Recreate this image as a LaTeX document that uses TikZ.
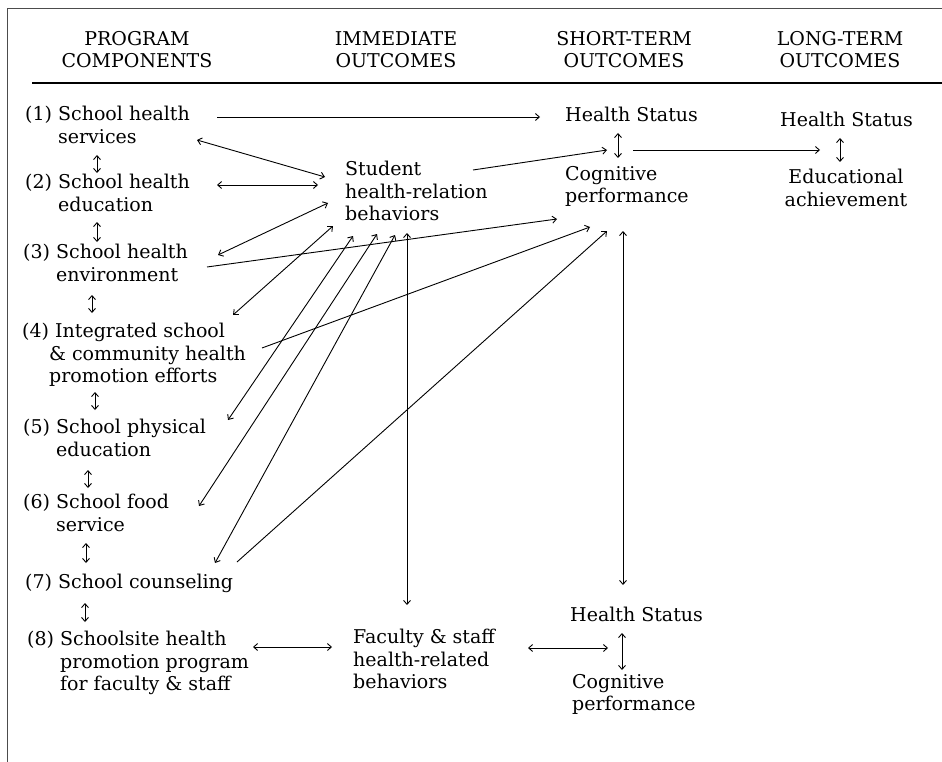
\documentclass[tikz,border=0pt]{standalone}
\usepackage{fontspec}
\setmainfont{DejaVu Serif}
\usetikzlibrary{arrows.meta}
\newcommand\labfont{\fontsize{19}{22.5}\selectfont}
\newcommand\topstrut{\rule{0pt}{15pt}}
\newcommand\ind[1]{\hphantom{(#1) }}

\begin{document}
\begin{tikzpicture}[x=1pt,y=-1pt,
  lbl/.style={inner sep=0pt, anchor=north west, align=left, font=\labfont, execute at begin node=\topstrut},
  hdr/.style={inner sep=0pt, anchor=north, align=center, font=\labfont, execute at begin node=\topstrut},
  tip/.tip={Straight Barb[length=4pt,width=7pt]},
  oneway/.style={line width=0.9pt, -tip},
  twoway/.style={line width=0.9pt, tip-tip},
  frameline/.style={line width=1pt, draw=black!70}]

\useasboundingbox (0,0) rectangle (942,762);

% frame and header rule
\draw[frameline] (7,762) -- (7,9) -- (942,9);
\draw[line width=1.5pt] (32,83) -- (942,83);

% column headers
\node[hdr] (h1) at (137,31) {PROGRAM\\COMPONENTS};
\node[hdr] (h2) at (396,31) {IMMEDIATE\\OUTCOMES};
\node[hdr] (h3) at (624,31) {SHORT-TERM\\OUTCOMES};
\node[hdr] (h4) at (840,31) {LONG-TERM\\OUTCOMES};

% program components
\node[lbl] (c1) at (25,106) {(1) School health\\\ind{1}services};
\node[lbl] (c2) at (25,174) {(2) School health\\\ind{2}education};
\node[lbl] (c3) at (23,244) {(3) School health\\\ind{3}environment};
\node[lbl] (c4) at (22,323) {(4) Integrated school\\\ind{4}\kern-6pt\& community health\\\ind{4}\kern-6pt promotion efforts};
\node[lbl] (c5) at (23,419) {(5) School physical\\\ind{5}education};
\node[lbl] (c6) at (23,494) {(6) School food\\\ind{6}service};
\node[lbl] (c7) at (25,573) {(7) School counseling};
\node[lbl] (c8) at (27,631) {(8) Schoolsite health\\\ind{8}promotion program\\\ind{8}for faculty \& staff};

% immediate outcomes
\node[lbl] (sb) at (345,161) {Student\\health-relation\\behaviors};
\node[lbl] (fb) at (353,629) {Faculty \& staff\\health-related\\behaviors};

% short-term outcomes
\node[lbl] (hs1) at (565,106) {Health Status};
\node[lbl] (cp1) at (565,166) {Cognitive\\performance};
\node[lbl] (hs3) at (570,606) {Health Status};
\node[lbl] (cp3) at (572,674) {Cognitive\\performance};

% long-term outcomes
\node[lbl] (hs2) at (780,111) {Health Status};
\node[hdr] (ea) at (846,169) {Educational\\achievement};

% connector end points
\coordinate (c1e) at (217,117);   \coordinate (hs1w) at (540,117);
\coordinate (c1s) at (197,140);   \coordinate (sb1) at (325,177);
\coordinate (c2e) at (217,185);   \coordinate (sb2) at (318,185);
\coordinate (c3e) at (218,255);   \coordinate (sb3) at (328,203);
\coordinate (c4e) at (233,315);   \coordinate (sb4) at (333,226);
\coordinate (c5e) at (228,420);   \coordinate (sb5) at (353,236);
\coordinate (c6e) at (199,506);   \coordinate (sb6) at (377,234);
\coordinate (c7e) at (215,563);   \coordinate (sb7) at (395,235);
\coordinate (sbS) at (407,233);   \coordinate (fbN) at (407,605);
\coordinate (sbE) at (473,170);   \coordinate (stm) at (607,150);
\coordinate (c3x) at (207,267);   \coordinate (cpA) at (557,219);
\coordinate (c4x) at (262,348);   \coordinate (cpB) at (590,227);
\coordinate (c7x) at (237,562);   \coordinate (cpC) at (607,231);
\coordinate (cpS) at (623,231);   \coordinate (hs3N) at (623,585);
\coordinate (stE) at (633,150);   \coordinate (ltm) at (820,150);
\coordinate (c8e) at (253,647);   \coordinate (fbW) at (332,647);
\coordinate (fbE) at (528,648);   \coordinate (bsW) at (608,648);

% links between components and outcomes
\draw[oneway] (c1e) -- (hs1w);
\draw[twoway] (c1s) -- (sb1);
\draw[twoway] (c2e) -- (sb2);
\draw[twoway] (c3e) -- (sb3);
\draw[twoway] (c4e) -- (sb4);
\draw[twoway] (c5e) -- (sb5);
\draw[twoway] (c6e) -- (sb6);
\draw[twoway] (c7e) -- (sb7);
\draw[twoway] (sbS) -- (fbN);
\draw[oneway] (sbE) -- (stm);
\draw[oneway] (c3x) -- (cpA);
\draw[oneway] (c4x) -- (cpB);
\draw[oneway] (c7x) -- (cpC);
\draw[twoway] (cpS) -- (hs3N);
\draw[oneway] (stE) -- (ltm);
\draw[twoway] (c8e) -- (fbW);
\draw[twoway] (fbE) -- (bsW);

% short vertical two-way links
\coordinate (st1) at (618,133);  \coordinate (st2) at (618,158);
\coordinate (lt1) at (840,138);  \coordinate (lt2) at (840,162);
\coordinate (bt1) at (622,633);  \coordinate (bt2) at (622,670);
\draw[twoway] (st1) -- (st2);
\draw[twoway] (lt1) -- (lt2);
\draw[twoway] (bt1) -- (bt2);

\coordinate (k12a) at (97,155);  \coordinate (k12b) at (97,173);
\coordinate (k23a) at (97,222);  \coordinate (k23b) at (97,242);
\coordinate (k34a) at (92,295);  \coordinate (k34b) at (92,313);
\coordinate (k45a) at (95,392);  \coordinate (k45b) at (95,410);
\coordinate (k56a) at (88,470);  \coordinate (k56b) at (88,488);
\coordinate (k67a) at (86,543);  \coordinate (k67b) at (86,563);
\coordinate (k78a) at (85,603);  \coordinate (k78b) at (85,622);
\foreach \p in {12,23,34,45,56,67,78}
  \draw[twoway] (k\p a) -- (k\p b);

\end{tikzpicture}
\end{document}
